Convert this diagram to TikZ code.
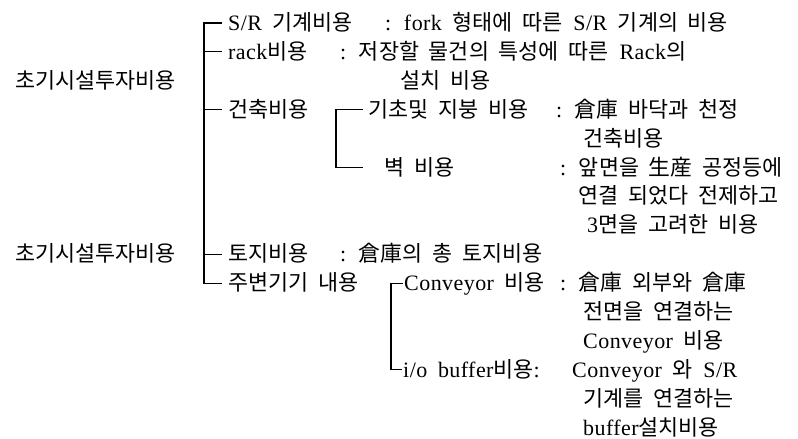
\documentclass[tikz,border=0pt]{standalone}
\usepackage{fontspec}
\setmainfont{Liberation Serif}[Scale=1.1,LetterSpace=2,WordSpace=1.8]
\newfontfamily\kr{Noto Sans CJK KR}[Scale=1.09,WordSpace=2]
\tikzset{
  txt/.style={anchor=west, inner sep=0pt, font=\fontsize{20}{24}\selectfont, text height=16pt, text depth=1pt},
  ln/.style={line width=1.1pt, black}
}
\begin{document}
\begin{tikzpicture}[x=1pt,y=-1pt]
\useasboundingbox (0,0) rectangle (798,439);
% titles
\node[txt] (t1) at (15,80.8) {\kr 초기시설투자비용};
\node[txt] (t2) at (15,254.2) {\kr 초기시설투자비용};
% level 1 and descriptions
\node[txt] (srl) at (228,23) {S/R {\kr 기계비용}};
\node[txt] (srd) at (385,23) {: fork {\kr 형태에 따른} S/R {\kr 기계의 비용}};
\node[txt] (rackl) at (228,51.9) {rack{\kr 비용}};
\node[txt] (rackd) at (340,51.9) {: {\kr 저장할 물건의 특성에 따른} Rack{\kr 의}};
\node[txt] (rackd2) at (400,80.8) {\kr 설치 비용};
\node[txt] (gcl) at (228,109.7) {\kr 건축비용};
\node[txt] (fdl) at (368,109.7) {\kr 기초및 지붕 비용};
\node[txt] (fdd) at (556,109.7) {: {\kr 倉庫 바닥과 천정}};
\node[txt] (fdd2) at (583,138.6) {\kr 건축비용};
\node[txt] (wl) at (384,167.5) {\kr 벽 비용};
\node[txt] (wd) at (560,167.5) {: {\kr 앞면을 生産 공정등에}};
\node[txt] (wd2) at (578,196.4) {\kr 연결 되었다 전제하고};
\node[txt] (wd3) at (587,225.3) {3{\kr 면을 고려한 비용}};
\node[txt] (ll) at (228,254.2) {\kr 토지비용};
\node[txt] (ld) at (340,254.2) {: {\kr 倉庫의 총 토지비용}};
\node[txt] (pl) at (228,283.1) {\kr 주변기기 내용};
\node[txt] (cl) at (404,283.1) {Conveyor {\kr 비용}};
\node[txt] (cd) at (560,283.1) {: {\kr 倉庫 외부와 倉庫}};
\node[txt] (cd2) at (583,312) {\kr 전면을 연결하는};
\node[txt] (cd3) at (583,340.9) {Conveyor {\kr 비용}};
\node[txt] (il) at (403,369.8) {i/o buffer{\kr 비용}:};
\node[txt] (id) at (572,369.8) {Conveyor {\kr 와} S/R};
\node[txt] (id2) at (583,398.7) {\kr 기계를 연결하는};
\node[txt] (id3) at (583,427.6) {buffer{\kr 설치비용}};
% main bracket
\coordinate (a0) at (204,23);
\coordinate (a9) at (204,283.1);
\draw[ln, shorten <=6pt, shorten >=6pt] (srl.west) -- (a0) -- (a9) -- (pl.west);
\foreach \n in {rackl,gcl,ll} \draw[ln, shorten >=6pt] (a0 |- \n.west) -- (\n.west);
% building bracket
\coordinate (b0) at (336,109.7);
\coordinate (b1) at (336,167.5);
\draw[ln, shorten <=5pt, shorten >=21pt] (fdl.west) -- (b0) -- (b1) -- (wl.west);
% peripheral bracket
\coordinate (c0) at (391,283.1);
\coordinate (c1) at (391,369.8);
\draw[ln, shorten <=1pt, shorten >=1pt] (cl.west) -- (c0) -- (c1) -- (il.west);
\end{tikzpicture}
\end{document}
